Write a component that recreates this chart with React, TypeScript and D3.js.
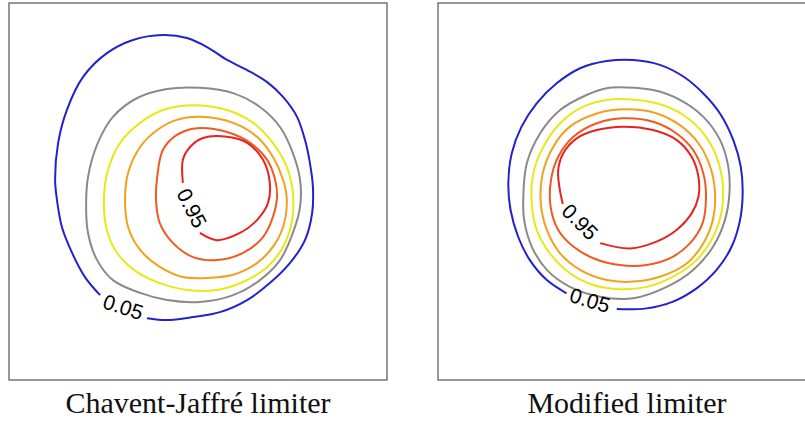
import React from 'react';
import * as d3 from 'd3';

type Pt = [number, number];

// contour levels, innermost label and outermost label
const levels = [0.05, 0.25, 0.45, 0.65, 0.85, 0.95];
const levelColors = ['#2222cc', '#8a8a8a', '#e8e814', '#f2a01e', '#f05a1e', '#e8221c'];
const captions = ['Chavent-Jaffré limiter', 'Modified limiter'];

// Chavent-Jaffré limiter contours, coordinates in % of the domain
const cj005: Pt[] = [
  [24.1, 22.5], [20.1, 27.3], [16.7, 33.7], [14.0, 40.6], [12.7, 47.7], [12.2, 53.1], [13.0, 62.9],
  [15.3, 71.6], [19.6, 80.4], [25.9, 86.7], [32.8, 90.2], [40.7, 91.5], [47.1, 90.7], [52.4, 88.3],
  [57.7, 84.9], [63.0, 82.2], [68.3, 79.0], [72.5, 75.1], [76.2, 69.8], [78.3, 63.7], [79.6, 57.6],
  [80.4, 51.2], [80.2, 44.3], [78.3, 37.1], [74.3, 31.0], [69.0, 25.7], [63.0, 21.2], [55.8, 18.0],
  [48.7, 16.7], [41.8, 15.9], [36.5, 16.4],
];
const cj025: Pt[] = [
  [50.5, 77.5], [59.3, 76.1], [66.4, 72.4], [71.7, 67.1], [75.1, 60.2], [77.0, 53.1], [77.0, 45.9],
  [75.1, 39.0], [71.7, 31.8], [66.4, 26.5], [59.3, 22.5], [50.5, 20.7], [41.8, 21.2], [34.7, 23.1],
  [27.5, 26.5], [23.3, 31.8], [20.9, 39.0], [20.4, 45.9], [20.9, 53.8], [23.5, 62.9], [27.5, 69.8],
  [33.9, 74.8], [41.8, 77.2],
];
const cj045: Pt[] = [
  [48.7, 72.9], [57.7, 71.6], [64.6, 68.2], [69.8, 62.9], [73.5, 56.5], [75.1, 49.6], [74.9, 42.4],
  [72.5, 35.3], [68.3, 30.0], [61.9, 26.0], [55.0, 23.9], [47.1, 23.9], [39.9, 25.7], [33.9, 28.6],
  [28.6, 33.7], [25.9, 39.8], [25.1, 47.7], [26.2, 55.7], [29.4, 62.9], [34.7, 68.2], [40.7, 71.6],
];
const cj065: Pt[] = [
  [50.5, 69.8], [59.3, 68.2], [65.6, 64.5], [69.8, 59.2], [72.5, 53.1], [73.5, 47.7], [72.5, 40.6],
  [69.8, 35.3], [65.6, 31.0], [59.3, 27.9], [53.2, 27.1], [46.0, 27.3], [39.9, 30.0], [34.7, 34.5],
  [31.5, 40.6], [30.7, 47.7], [31.5, 54.9], [34.7, 61.8], [39.2, 66.3], [44.4, 69.0],
];
const cj085: Pt[] = [
  [49.7, 66.8], [57.7, 65.8], [63.8, 62.9], [68.3, 58.4], [70.4, 53.1], [70.9, 48.5], [69.8, 43.2],
  [67.2, 37.9], [61.9, 33.7], [55.0, 31.8], [48.7, 32.6], [43.4, 36.3], [39.9, 41.6], [38.9, 47.7],
  [39.2, 53.8], [40.7, 61.0], [44.4, 65.0],
];
const cj095: Pt[] = [
  [46.0, 52.3], [46.0, 58.4], [47.9, 61.8], [51.3, 64.2], [57.7, 64.5], [63.0, 62.9], [67.2, 58.4],
  [69.0, 52.3], [68.5, 46.9], [65.6, 42.4], [61.1, 39.0], [55.0, 37.1], [50.5, 39.0],
];

// Modified limiter contours
const mod005: Pt[] = [
  [34.0, 23.0], [28.8, 26.5], [24.3, 31.8], [21.2, 38.0], [19.2, 45.1], [18.6, 52.2], [19.5, 60.1],
  [22.1, 67.2], [26.1, 73.4], [31.4, 78.7], [37.6, 82.7], [44.6, 84.6], [51.7, 84.9], [58.7, 83.6],
  [64.9, 80.5], [70.2, 76.0], [74.6, 70.7], [78.1, 63.7], [80.1, 56.6], [80.6, 49.5], [79.9, 42.4],
  [77.7, 35.4], [73.7, 29.2], [68.4, 24.3], [62.2, 20.8], [55.2, 19.0], [47.3, 18.8],
];
const mod025: Pt[] = [
  [49.9, 77.6], [57.0, 76.9], [64.0, 74.3], [70.2, 69.8], [74.6, 63.7], [76.8, 56.6], [77.1, 49.5],
  [75.9, 42.4], [72.8, 35.4], [67.5, 29.2], [60.5, 24.7], [51.7, 21.7], [42.9, 22.1], [34.9, 24.7],
  [28.8, 29.2], [24.8, 35.4], [22.8, 42.4], [22.6, 49.5], [23.5, 57.5], [27.0, 65.4], [32.3, 71.6],
  [39.3, 75.6], [44.6, 77.4],
];
const mod045: Pt[] = [
  [49.9, 74.5], [57.9, 73.4], [64.9, 70.3], [70.2, 65.4], [73.7, 59.2], [75.3, 52.2], [75.1, 45.1],
  [72.8, 38.0], [68.4, 31.8], [62.2, 27.4], [55.2, 24.7], [48.1, 24.1], [41.1, 25.2], [34.9, 28.3],
  [29.6, 33.6], [26.1, 39.8], [24.8, 46.9], [25.2, 54.8], [27.9, 61.9], [32.3, 68.1], [38.4, 72.5],
  [44.6, 74.3],
];
const mod065: Pt[] = [
  [49.9, 71.8], [57.9, 70.7], [64.0, 67.6], [68.9, 62.8], [72.0, 56.6], [73.3, 49.5], [72.7, 42.4],
  [70.2, 36.3], [65.8, 30.9], [58.7, 27.4], [51.7, 26.1], [44.6, 26.5], [37.6, 29.2], [32.3, 33.6],
  [28.8, 39.8], [27.2, 46.9], [27.7, 54.8], [30.5, 61.9], [34.9, 67.2], [42.0, 70.7],
];
const mod085: Pt[] = [
  [49.0, 69.4], [56.9, 68.5], [63.1, 65.4], [67.5, 61.0], [70.2, 54.8], [70.9, 48.6], [70.0, 41.6],
  [66.7, 36.3], [61.4, 32.3], [55.2, 30.5], [48.1, 30.5], [41.1, 32.3], [35.8, 35.4], [31.8, 39.8],
  [29.8, 45.9], [29.9, 53.1], [31.8, 59.2], [35.8, 64.5], [42.0, 68.1],
];
const mod095: Pt[] = [
  [33.0, 46.7], [32.1, 51.3], [31.8, 55.7], [33.1, 60.1], [36.7, 64.1], [42.0, 66.3], [49.0, 67.2],
  [56.9, 66.3], [63.1, 63.7], [67.1, 59.2], [68.9, 53.9], [68.9, 48.6], [67.1, 44.2], [63.1, 39.8],
  [57.8, 36.7], [50.8, 34.9], [42.9, 36.3],
];

// label positions [x, y, rotation deg] for 0.05 and 0.95
const cjLabels: [number, number, number][] = [[30.2, 19.4, 18], [48.4, 45.6, 63]];
const modLabels: [number, number, number][] = [[40.2, 21.2, 17], [37.6, 42.0, 45]];

const size = 378;

interface PanelProps {
  left: number;
  contours: Pt[][];
  labels: [number, number, number][];
  caption: string;
}

const Panel: React.FC<PanelProps> = ({ left, contours, labels, caption }) => {
  const x = d3.scaleLinear().domain([0, 100]).range([0, size]);
  const y = d3.scaleLinear().domain([0, 100]).range([size - 1, 0]);

  const openLine = d3.line<Pt>().x(d => x(d[0])).y(d => y(d[1])).curve(d3.curveCatmullRom);
  const closedLine = d3.line<Pt>().x(d => x(d[0])).y(d => y(d[1])).curve(d3.curveCatmullRomClosed);

  const labelLevels = [levels[0], levels[levels.length - 1]];

  return (
    <g transform={`translate(${left},3)`}>
      <rect x={0} y={0} width={size} height={size - 1} fill="white" stroke="#606060" strokeWidth={1.3} />
      {contours.map((c, i) => {
        const open = i === 0 || i === contours.length - 1;
        return (
          <path
            key={i}
            d={(open ? openLine(c) : closedLine(c)) || ''}
            fill="none"
            stroke={levelColors[i]}
            strokeWidth={2}
            strokeLinejoin="round"
          />
        );
      })}
      {labels.map((l, i) => (
        <text
          key={i}
          transform={`translate(${x(l[0])},${y(l[1])}) rotate(${l[2]})`}
          textAnchor="middle"
          dominantBaseline="central"
          fontFamily="'Liberation Sans', Arial, sans-serif"
          fontSize={21}
          fill="#000"
        >
          {labelLevels[i].toFixed(2)}
        </text>
      ))}
      <text
        x={size / 2}
        y={410}
        textAnchor="middle"
        fontFamily="'Liberation Serif', 'Times New Roman', serif"
        fontSize={30}
        fill="#111"
      >
        {caption}
      </text>
    </g>
  );
};

const App: React.FC = () => {
  return (
    <div style={{ position: 'absolute', left: 0, top: 0 }}>
      <svg width={805} height={423} style={{ display: 'block', background: 'white' }}>
        <Panel
          left={9}
          contours={[cj005, cj025, cj045, cj065, cj085, cj095]}
          labels={cjLabels}
          caption={captions[0]}
        />
        <Panel
          left={438}
          contours={[mod005, mod025, mod045, mod065, mod085, mod095]}
          labels={modLabels}
          caption={captions[1]}
        />
      </svg>
    </div>
  );
};

export default App;
